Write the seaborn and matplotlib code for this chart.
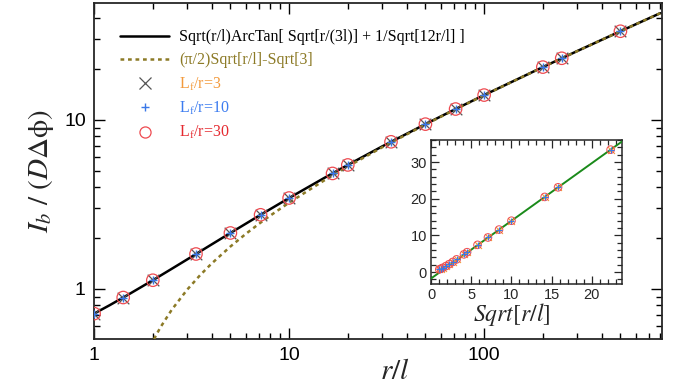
import numpy as np
import pandas as pd
import matplotlib
matplotlib.use("Agg")
import matplotlib.pyplot as plt
import seaborn as sns
from matplotlib.lines import Line2D
from matplotlib.ticker import LogLocator, NullFormatter, MultipleLocator

# ---------------- data ----------------
# simulation points (r/l, I_b/(D dphi)); the three L_f/r series sit on top of each other
r_over_l = [1, 1.41, 2, 3.33, 5, 7.14, 10, 16.7, 20, 33.3, 50, 71.4, 100, 200, 250, 500]
ib_lf3 = [0.714, 0.889, 1.125, 1.608, 2.141, 2.743, 3.447, 4.817, 5.407, 7.410,
          9.425, 11.578, 14.00, 20.495, 23.114, 33.398]
ib_lf10 = [0.714, 0.889, 1.125, 1.608, 2.141, 2.743, 3.447, 4.817, 5.407, 7.410,
           9.425, 11.578, 14.00, 20.495, 23.114, 33.398]
ib_lf30 = [0.714, 0.889, 1.125, 1.608, 2.141, 2.743, 3.447, 4.817, 5.407, 7.410,
           9.425, 11.578, 14.00, 20.495, 23.114, 33.398]
sqrt_r_over_l = [1.0, 1.19, 1.41, 1.83, 2.24, 2.67, 3.16, 4.08, 4.47, 5.77,
                 7.07, 8.45, 10.0, 14.14, 15.81, 22.36]

# solid curve: Sqrt(r/l)ArcTan[...]
arctan_x = [1, 1.2, 1.5, 2, 2.5, 3, 4, 5, 7, 10, 15, 20, 30, 50, 70, 100, 200, 300, 500, 800]
arctan_y = [0.714, 0.800, 0.926, 1.125, 1.314, 1.493, 1.830, 2.141, 2.705, 3.447, 4.502,
            5.407, 6.958, 9.425, 11.446, 14.00, 20.495, 25.482, 33.398, 42.70]

# dashed curve: (pi/2)Sqrt[r/l]-Sqrt[3]
asym_x = [1.95, 2, 2.1, 2.2, 2.5, 3, 3.5, 4, 5, 6, 7, 8, 10, 15, 20, 30, 50, 70, 100,
          200, 300, 500, 800]
asym_y = [0.461, 0.489, 0.544, 0.598, 0.752, 0.989, 1.207, 1.410, 1.780, 2.116, 2.424,
          2.711, 3.235, 4.352, 5.293, 6.872, 9.375, 11.410, 13.976, 20.482, 25.475,
          33.392, 42.697]

# inset straight line
inset_line_x = [0, 24]
inset_line_y = [-1.73, 35.97]

legend_labels = ["Sqrt(r/l)ArcTan[ Sqrt[r/(3l)] + 1/Sqrt[12r/l] ]",
                 "(\u03c0/2)Sqrt[r/l]-Sqrt[3]",
                 "L$_\\mathregular{f}$/r=3", "L$_\\mathregular{f}$/r=10", "L$_\\mathregular{f}$/r=30"]

OLIVE = "#8c7a26"
C_X = "#555555"
C_PLUS = "#3a78e8"
C_O = "#ee4a50"
TXT_COLORS = ["black", OLIVE, "#f39a3c", "#3c7cf0", "#e52a30"]

sns.set_style("ticks")
plt.rcParams["font.family"] = ["Liberation Sans", "DejaVu Sans"]
plt.rcParams["mathtext.fontset"] = "stix"

fig = plt.figure(figsize=(6.77, 3.86), dpi=100)
ax = fig.add_axes([0.139, 0.122, 0.839, 0.870])

curves = pd.DataFrame({"x": arctan_x, "y": arctan_y})
asym = pd.DataFrame({"x": asym_x, "y": asym_y})
sns.lineplot(data=curves, x="x", y="y", ax=ax, color="black", lw=1.8, zorder=3)
sns.lineplot(data=asym, x="x", y="y", ax=ax, color=OLIVE, lw=1.8, zorder=4,
             dashes=False, linestyle=(0, (1.5, 1.5)))

pts = pd.DataFrame({"x": r_over_l, "a": ib_lf3, "b": ib_lf10, "c": ib_lf30})
sns.scatterplot(data=pts, x="x", y="a", ax=ax, marker="x", s=70, color=C_X, linewidth=0.9, zorder=5)
sns.scatterplot(data=pts, x="x", y="b", ax=ax, marker="+", s=40, color=C_PLUS, linewidth=1.0, zorder=6)
sns.scatterplot(data=pts, x="x", y="c", ax=ax, marker="o", s=80, facecolor="none",
                edgecolor=C_O, linewidth=0.9, zorder=5)

ax.set_xscale("log")
ax.set_yscale("log")
ax.set_xlim(1, 818)
ax.set_ylim(0.506, 49)
ax.set_xticks([1, 10, 100])
ax.set_xticklabels(["1", "10", "100"])
ax.set_yticks([1, 10])
ax.set_yticklabels(["1", "10"])
ax.xaxis.set_minor_locator(LogLocator(base=10, subs=np.arange(2, 10)))
ax.yaxis.set_minor_locator(LogLocator(base=10, subs=np.arange(2, 10)))
ax.xaxis.set_minor_formatter(NullFormatter())
ax.yaxis.set_minor_formatter(NullFormatter())
ax.tick_params(which="both", direction="in", top=True, right=True, width=1.0, colors="black")
ax.tick_params(which="major", length=8, labelsize=14, pad=6)
ax.tick_params(which="minor", length=4.5)
for s in ax.spines.values():
    s.set_linewidth(1.3)
ax.set_xlabel("$r/l$", fontsize=21)
ax.xaxis.set_label_coords(0.53, -0.055)
ax.set_ylabel("$I_b\\ /\\ (D\\Delta\\mathrm{\\phi})$", fontsize=21, labelpad=6)

handles = [
    Line2D([], [], color="black", lw=1.8),
    Line2D([], [], color=OLIVE, lw=1.8, linestyle=(0, (1.5, 1.5))),
    Line2D([], [], color=C_X, marker="x", ls="none", ms=8, mew=0.9),
    Line2D([], [], color=C_PLUS, marker="+", ls="none", ms=6, mew=1.0),
    Line2D([], [], color=C_O, marker="o", ls="none", ms=8, mfc="none", mew=0.9),
]
leg = ax.legend(handles, legend_labels, loc="upper left", bbox_to_anchor=(0.02, 0.965),
                frameon=False, handlelength=3.1, handletextpad=0.6, labelspacing=0.45,
                prop={"family": ["Liberation Serif", "DejaVu Serif"], "size": 11.5})
for t, c in zip(leg.get_texts(), TXT_COLORS):
    t.set_color(c)

# ---------------- inset ----------------
ins = fig.add_axes([0.637, 0.264, 0.282, 0.373])
sns.lineplot(x=inset_line_x, y=inset_line_y, ax=ins, color="#1a8a1a", lw=1.4, zorder=3)
ipts = pd.DataFrame({"x": sqrt_r_over_l, "a": ib_lf3, "b": ib_lf10, "c": ib_lf30})
sns.scatterplot(data=ipts, x="x", y="a", ax=ins, marker="x", s=25, color="#f39a3c", linewidth=0.8, zorder=5)
sns.scatterplot(data=ipts, x="x", y="b", ax=ins, marker="+", s=25, color=C_PLUS, linewidth=0.8, zorder=6)
sns.scatterplot(data=ipts, x="x", y="c", ax=ins, marker="o", s=30, facecolor="none",
                edgecolor=C_O, linewidth=0.7, zorder=5)
ins.set_xlim(0, 23.8)
ins.set_ylim(-3.3, 36)
ins.xaxis.set_major_locator(MultipleLocator(5))
ins.xaxis.set_minor_locator(MultipleLocator(1))
ins.yaxis.set_major_locator(MultipleLocator(10))
ins.yaxis.set_minor_locator(MultipleLocator(2))
ins.tick_params(which="both", direction="in", top=True, right=True, width=0.9)
ins.tick_params(which="major", length=6, labelsize=10.5, pad=3)
ins.tick_params(which="minor", length=3.5)
for s in ins.spines.values():
    s.set_linewidth(1.1)
ins.set_xlabel("$Sqrt[r/l]$", fontsize=17)
ins.xaxis.set_label_coords(0.42, -0.12)
ins.set_ylabel("")

fig.savefig("out.png", dpi=100)
